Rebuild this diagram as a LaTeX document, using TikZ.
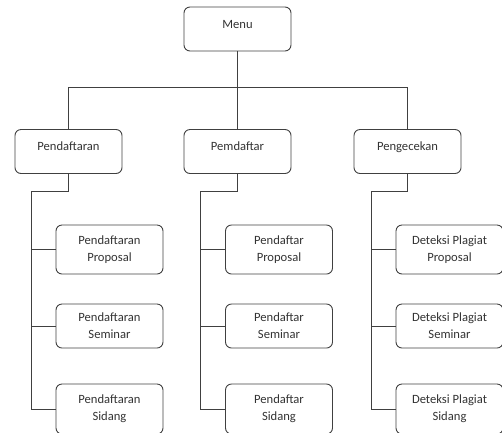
\documentclass[tikz,border=0pt]{standalone}
\usepackage{fontspec}
\setmainfont{Carlito}
\begin{document}
\begin{tikzpicture}[x=1bp,y=-1bp,
  box/.style={draw=black!75, line width=0.9bp, rounded corners=6bp, minimum width=107bp, inner sep=0pt,
    align=center, text=black!80, font=\fontsize{12.6bp}{17bp}\selectfont},
  topbox/.style={box, minimum height=44bp, text height=9bp, text depth=11bp},
  line/.style={draw=black!75, line width=0.9bp}]
\useasboundingbox (0,0) rectangle (502,432);
% top level
\node[topbox] (menu) at (237.5,29) {Menu};
\node[topbox] (pend) at (68.5,151.5) {Pendaftaran};
\node[topbox] (pem) at (237.5,151.5) {Pemdaftar};
\node[topbox] (peng) at (407.5,151.5) {Pengecekan};
% children
\node[box, minimum height=49bp] (a1) at (109.5,249.5) {Pendaftaran\\Proposal};
\node[box, minimum height=44bp] (a2) at (109.5,326) {Pendaftaran\\Seminar};
\node[box, minimum height=50bp] (a3) at (109.5,409) {Pendaftaran\\Sidang};
\node[box, minimum height=49bp] (b1) at (279,249.5) {Pendaftar\\Proposal};
\node[box, minimum height=44bp] (b2) at (279,326) {Pendaftar\\Seminar};
\node[box, minimum height=50bp] (b3) at (279,409) {Pendaftar\\Sidang};
\node[box, minimum height=49bp] (c1) at (449.5,249.5) {Deteksi Plagiat\\Proposal};
\node[box, minimum height=44bp] (c2) at (449.5,326) {Deteksi Plagiat\\Seminar};
\node[box, minimum height=50bp] (c3) at (449.5,409) {Deteksi Plagiat\\Sidang};
% trunk coordinates
\coordinate (ta) at (31,191);
\coordinate (tb) at (200,191);
\coordinate (tc) at (371,191);
% top connectors
\draw[line] (menu.south) -- (pem.north);
\draw[line] (pend.north) -- ++(0,-42) -| (peng.north);
% column 1
\draw[line] (pend.south) |- (ta) |- (a3.west);
\draw[line] (a1.west) -- (a1.west -| ta);
\draw[line] (a2.west) -- (a2.west -| ta);
% column 2
\draw[line] (pem.south) |- (tb) |- (b3.west);
\draw[line] (b1.west) -- (b1.west -| tb);
\draw[line] (b2.west) -- (b2.west -| tb);
% column 3
\draw[line] (peng.south) |- (tc) |- (c3.west);
\draw[line] (c1.west) -- (c1.west -| tc);
\draw[line] (c2.west) -- (c2.west -| tc);
\end{tikzpicture}
\end{document}
